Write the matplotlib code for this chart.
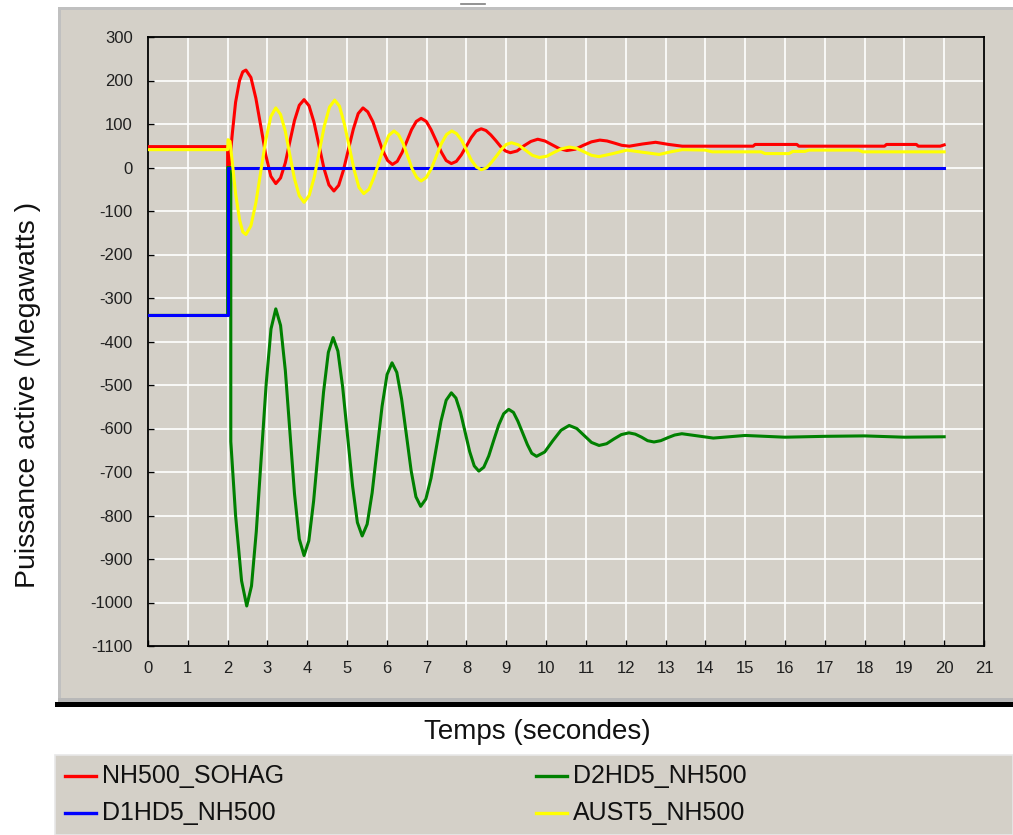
import matplotlib
matplotlib.use("Agg")
import matplotlib.pyplot as plt
from matplotlib.patches import Rectangle
from matplotlib.lines import Line2D

plt.rcParams['font.family'] = ['Liberation Sans', 'DejaVu Sans']
plt.rcParams['axes.unicode_minus'] = False

# series (time in s, power in MW)
sohag_t = [0, 2.0, 2.0, 2.04, 2.12, 2.2, 2.3, 2.38, 2.46,
           2.585, 2.71, 2.835, 2.96, 3.085, 3.21,
           3.33, 3.45, 3.565, 3.68, 3.80, 3.92,
           4.045, 4.17, 4.295, 4.42, 4.545, 4.67,
           4.79, 4.91, 5.035, 5.16, 5.28, 5.40,
           5.52, 5.65, 5.77, 5.89, 6.02, 6.14,
           6.26, 6.38, 6.50, 6.62, 6.74, 6.86,
           6.99, 7.11, 7.24, 7.37, 7.49, 7.62,
           7.745, 7.87, 7.995, 8.12, 8.245, 8.37,
           8.49, 8.61, 8.735, 8.86, 8.98, 9.10,
           9.27, 9.445, 9.62, 9.79, 9.97, 10.155, 10.34, 10.52,
           10.73, 10.935, 11.14, 11.35, 11.53, 11.72, 11.9, 12.09, 12.42, 12.75, 13.08, 13.42,
           15.2, 15.25, 16.3, 16.35, 18.5, 18.55, 19.3, 19.35, 19.9, 20]
sohag_v = [48, 48, 3, 3, 80, 150, 200, 220, 224,
           207, 159, 94, 28, -20, -37,
           -24, 11, 60, 108, 143, 156,
           142, 104, 51, -2, -40, -54,
           -41, -6, 42, 89, 124, 137,
           128, 105, 72, 40, 16, 7,
           14, 34, 60, 87, 106, 113,
           106, 87, 61, 35, 16, 9,
           14, 29, 49, 69, 84, 89,
           85, 75, 62, 48, 38, 34,
           38, 50, 60, 65, 61, 52, 43, 39,
           42, 51, 59, 63, 61, 56, 51, 49, 54, 58, 53, 49,
           49, 53, 53, 49, 49, 53, 53, 49, 49, 52]

d1_t = [0, 2.0, 2.0, 20]
d1_v = [-340, -340, 0, 0]

d2_t = [0, 2.0, 2.0, 2.08, 2.08, 2.2, 2.35, 2.48,
        2.60, 2.72, 2.845, 2.97, 3.09, 3.21,
        3.33, 3.45, 3.565, 3.68, 3.80, 3.92,
        4.04, 4.16, 4.285, 4.41, 4.53, 4.65,
        4.77, 4.89, 5.015, 5.14, 5.26, 5.38,
        5.505, 5.63, 5.755, 5.88, 6.005, 6.13,
        6.25, 6.37, 6.49, 6.61, 6.73, 6.85,
        6.98, 7.11, 7.235, 7.36, 7.49, 7.62,
        7.735, 7.85, 7.965, 8.08, 8.195, 8.31,
        8.435, 8.56, 8.685, 8.81, 8.935, 9.06,
        9.18, 9.29, 9.41, 9.53, 9.64, 9.76,
        9.965, 10.17, 10.375, 10.58,
        10.77, 10.955, 11.14, 11.33, 11.52, 11.705, 11.89, 12.08, 12.24, 12.4, 12.55, 12.71,
        12.88, 13.06, 13.23, 13.41, 14.2, 15, 16, 17, 18, 19, 20]
d2_v = [-340, -340, 0, 0, -630, -800, -950, -1008,
        -962, -837, -666, -496, -371, -325,
        -363, -467, -608, -750, -854, -892,
        -858, -767, -641, -516, -425, -391,
        -422, -505, -619, -733, -816, -847,
        -820, -748, -648, -549, -476, -449,
        -471, -532, -614, -697, -757, -779,
        -762, -714, -648, -583, -535, -518,
        -530, -563, -608, -653, -686, -698,
        -689, -663, -627, -592, -566, -556,
        -563, -583, -610, -637, -657, -664,
        -654, -628, -604, -593,
        -600, -616, -632, -639, -635, -624, -614, -610, -613, -620, -628, -631,
        -628, -621, -615, -612, -622, -616, -620, -618, -617, -620, -619]

aust_t = [0, 2.0, 2.01, 2.06, 2.12, 2.2, 2.3, 2.38, 2.46,
          2.585, 2.71, 2.835, 2.96, 3.085, 3.21,
          3.33, 3.45, 3.565, 3.68, 3.80, 3.92,
          4.05, 4.18, 4.305, 4.43, 4.56, 4.69,
          4.81, 4.93, 5.055, 5.18, 5.30, 5.42,
          5.55, 5.67, 5.80, 5.93, 6.05, 6.18,
          6.29, 6.41, 6.52, 6.63, 6.75, 6.86,
          6.99, 7.12, 7.245, 7.37, 7.50, 7.63,
          7.75, 7.88, 8.0, 8.12, 8.25, 8.37,
          8.50, 8.62, 8.75, 8.88, 9.0, 9.13,
          9.305, 9.48, 9.655, 9.83, 10.02, 10.205, 10.39, 10.58,
          10.77, 10.955, 11.14, 11.33, 11.68, 12.03, 12.43, 12.84, 13.13, 13.42,
          14.0, 14.17, 15.4, 15.5, 16.1, 16.2, 16.5, 16.6, 17.85, 17.95, 20]
aust_v = [41, 41, 64, 60, 10, -60, -120, -148, -154,
          -134, -81, -8, 64, 117, 137,
          122, 83, 28, -26, -65, -80,
          -64, -21, 38, 96, 139, 155,
          141, 101, 48, -6, -46, -60,
          -50, -24, 12, 48, 74, 84,
          76, 55, 27, -2, -23, -31,
          -23, -2, 27, 55, 76, 84,
          78, 62, 40, 17, 1, -5,
          -1, 11, 26, 42, 53, 57,
          52, 40, 28, 23, 26, 35, 43, 47,
          44, 36, 28, 25, 32, 40, 35, 30, 36, 41,
          40, 36, 36, 32, 32, 37, 37, 40, 40, 36, 36]

names = ['NH500_SOHAG', 'D1HD5_NH500', 'D2HD5_NH500', 'AUST5_NH500']
colors = ['#ff0000', '#0000ff', '#008000', '#ffff00']
x_ticks = list(range(0, 22))
y_ticks = list(range(-1100, 301, 100))

W, H = 1013, 835
bg = '#d4d0c8'

def fx(x):
    return x / W

def fy(y):
    return 1 - y / H

fig = plt.figure(figsize=(W / 100, H / 100), dpi=100)
fig.patch.set_facecolor('white')

# outer grey panel with bevel and black bottom edge
fig.patches.append(Rectangle((fx(58), fy(702)), fx(W) - fx(58), fy(7) - fy(702),
                             transform=fig.transFigure, facecolor=bg, edgecolor='none', zorder=-5))
fig.patches.append(Rectangle((fx(58), fy(702)), fx(3), fy(7) - fy(702),
                             transform=fig.transFigure, facecolor='#c0c0c0', edgecolor='none', zorder=-5))
fig.patches.append(Rectangle((fx(58), fy(10)), fx(W) - fx(58), fy(7) - fy(10),
                             transform=fig.transFigure, facecolor='#c0c0c0', edgecolor='none', zorder=-5))
fig.patches.append(Rectangle((fx(58), fy(702)), fx(W) - fx(58), fy(698) - fy(702),
                             transform=fig.transFigure, facecolor='#b8b8b8', edgecolor='none', zorder=-5))
fig.patches.append(Rectangle((fx(55), fy(707)), fx(W) - fx(55), fy(702) - fy(707),
                             transform=fig.transFigure, facecolor='black', edgecolor='none', zorder=-5))
fig.add_artist(Line2D([fx(461), fx(485)], [fy(4), fy(4)], color='#808080', lw=1.2))

# legend box
fig.patches.append(Rectangle((fx(55), 0), fx(W) - fx(55), fy(755),
                             transform=fig.transFigure, facecolor=bg, edgecolor='#e8e8e8',
                             linewidth=1.2, zorder=-5))

ax = fig.add_axes([fx(148), fy(646), fx(984) - fx(148), fy(37) - fy(646)])
ax.set_zorder(5)
ax.set_facecolor(bg)

ax.plot(sohag_t, sohag_v, color=colors[0], lw=2.2, zorder=3)
ax.plot(d2_t, d2_v, color=colors[2], lw=2.2, zorder=3)
ax.plot(d1_t, d1_v, color=colors[1], lw=2.2, zorder=4)
ax.plot(aust_t, aust_v, color=colors[3], lw=2.2, zorder=5)

ax.set_xlim(0, 21)
ax.set_ylim(-1100, 300)
ax.set_xticks(x_ticks)
ax.set_yticks(y_ticks)
ax.grid(True, color='white', lw=1.2, zorder=1)
ax.set_axisbelow(True)
ax.tick_params(direction='in', length=4, width=1, colors='black', labelsize=12,
               labelcolor='#202020', pad=11)
for s in ax.spines.values():
    s.set_color('black')
    s.set_linewidth(1.3)

fig.text(fx(537), fy(732), 'Temps (secondes)', fontsize=20, ha='center', va='center', color='#111111')
fig.text(fx(28), fy(395), 'Puissance active (Megawatts )', fontsize=20.5, rotation=90,
         ha='center', va='center', color='#111111')

# legend entries, two columns
leg_x = [65, 65, 536, 536]
leg_y = [776, 813, 776, 813]
for i, name in enumerate(names):
    fig.add_artist(Line2D([fx(leg_x[i]), fx(leg_x[i] + 31)], [fy(leg_y[i]), fy(leg_y[i])],
                          color=colors[i], lw=2.4))
    fig.text(fx(leg_x[i] + 37), fy(leg_y[i]), name, fontsize=18, ha='left', va='center',
             color='#111111')

fig.savefig('out.png', dpi=100)
